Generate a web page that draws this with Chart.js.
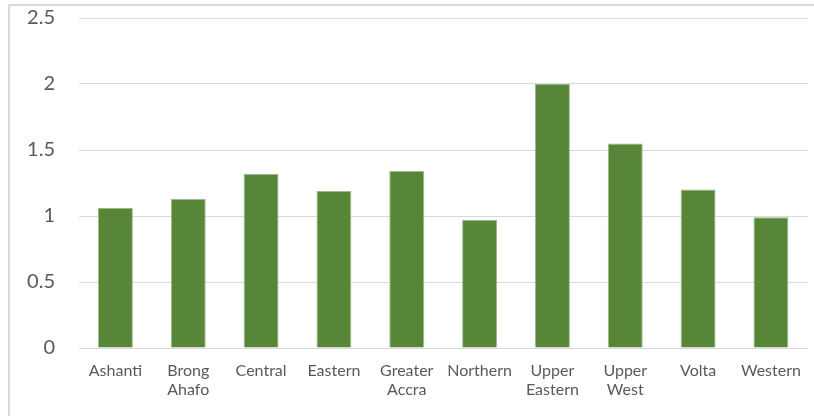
<!DOCTYPE html>
<html>
<head>
<meta charset="utf-8">
<script src="https://cdn.jsdelivr.net/npm/chart.js@4/dist/chart.umd.min.js"></script>
<style>
  html, body { margin: 0; padding: 0; background: #fff; }
  #wrap { position: relative; width: 814px; height: 416px; overflow: hidden; }
  #frame {
    position: absolute; left: 8px; top: 4px; width: 900px; height: 500px;
    border: 2px solid #d9d9d9; box-sizing: border-box;
  }
  /* canvas sits a little higher so the plot starts near the frame top */
  #chart { position: absolute; left: 0; top: -18px; }
</style>
</head>
<body>
<div id="wrap">
  <div id="frame"></div>
  <canvas id="chart" width="814" height="434"></canvas>
</div>
<script>
const regions = [
  'Ashanti', ['Brong', 'Ahafo'], 'Central', 'Eastern', ['Greater', 'Accra'],
  'Northern', ['Upper', 'Eastern'], ['Upper', 'West'], 'Volta', 'Western'
];
const values = [1.06, 1.13, 1.32, 1.19, 1.34, 0.97, 2.0, 1.55, 1.2, 0.99];
const yMin = 0;
const yMax = 2.5;
const yStep = 0.5;

const barColor = '#578638';
const gridColor = '#d9d9d9';
const labelColor = '#595959';

const ctx = document.getElementById('chart').getContext('2d');
new Chart(ctx, {
  type: 'bar',
  data: {
    labels: regions,
    datasets: [{
      data: values,
      backgroundColor: barColor,
      borderColor: '#9dbb8a',
      borderWidth: 1,
      barPercentage: 0.48,
      categoryPercentage: 1
    }]
  },
  options: {
    responsive: false,
    animation: false,
    layout: { padding: { left: 0, right: 2, top: 0, bottom: 0 } },
    plugins: {
      legend: { display: false },
      tooltip: { enabled: false }
    },
    scales: {
      x: {
        grid: { display: false, drawTicks: false },
        border: { display: false },
        ticks: {
          color: labelColor,
          font: { family: 'Lato', size: 16 },
          padding: 13,
          maxRotation: 0,
          autoSkip: false
        },
        afterFit: scale => { scale.height = 68; }
      },
      y: {
        min: yMin,
        max: yMax,
        grid: { color: gridColor, lineWidth: 1, drawTicks: false },
        border: { display: false },
        ticks: {
          stepSize: yStep,
          color: labelColor,
          font: { family: 'Lato', size: 20 },
          padding: 24,
          callback: v => String(v)
        },
        afterFit: scale => { scale.width = 79; }
      }
    }
  }
});
</script>
</body>
</html>
